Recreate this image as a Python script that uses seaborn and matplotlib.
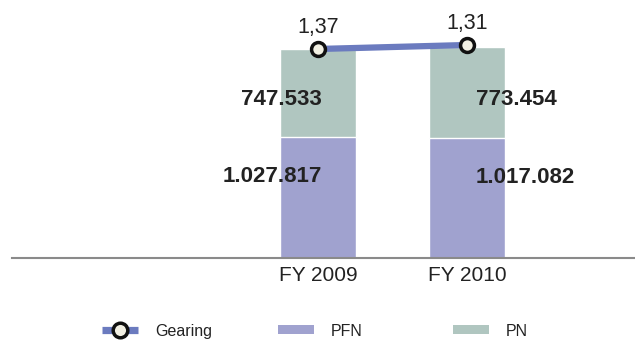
import matplotlib
matplotlib.use("Agg")
import matplotlib.pyplot as plt
import seaborn as sns
import pandas as pd
import numpy as np
from matplotlib.lines import Line2D
from matplotlib.patches import Patch

# Data
years = ["FY 2009", "FY 2010"]
pfn = [1027817, 1017082]
pn = [747533, 773454]
gearing = [1.37, 1.31]
pfn_labels = ["1.027.817", "1.017.082"]
pn_labels = ["747.533", "773.454"]
gearing_labels = ["1,37", "1,31"]
legend_labels = ["Gearing", "PFN", "PN"]

PFN_COLOR = "#a0a2cf"
PN_COLOR = "#b0c6c0"
LINE_COLOR = "#6b7bbf"
TEXT_COLOR = "#222222"

sns.set_theme(style="white")
plt.rcParams["font.family"] = ["Liberation Sans", "DejaVu Sans"]

df = pd.DataFrame({"year": years, "PFN": pfn, "PN": pn})
df["total"] = df["PFN"] + df["PN"]

W, H = 635, 340
fig = plt.figure(figsize=(W / 100, H / 100), dpi=100)
ax = fig.add_axes([12 / W, (H - 257.5) / H, 623 / W, 257.5 / H])

# Stacked bars: full total in PN colour, PFN drawn over the lower part
sns.barplot(data=df, x="year", y="total", color=PN_COLOR, saturation=1,
            width=0.51, ax=ax)
sns.barplot(data=df, x="year", y="PFN", color=PFN_COLOR, saturation=1,
            width=0.51, ax=ax)

ax.set_xlim(-2.054, 2.128)
ax.set_ylim(0, 2.195e6)
ax.set_xlabel("")
ax.set_ylabel("")
ax.set_yticks([])
for side in ["top", "left", "right"]:
    ax.spines[side].set_visible(False)
ax.spines["bottom"].set_color("#8a8a8a")
ax.spines["bottom"].set_linewidth(1.5)
ax.tick_params(axis="x", length=0, pad=6, labelsize=15, labelcolor=TEXT_COLOR)

# Value labels on the bar segments
for i in range(len(years)):
    if i == 0:
        dx, ha = 3, "right"
    else:
        dx, ha = 6.5, "left"
    ax.annotate(pfn_labels[i], (i, pfn[i] * 0.69), xytext=(dx, 0),
                textcoords="offset points", ha=ha, va="center_baseline",
                fontsize=16, fontweight="bold", color=TEXT_COLOR)
    ax.annotate(pn_labels[i], (i, pfn[i] + pn[i] * 0.45), xytext=(dx, 0),
                textcoords="offset points", ha=ha, va="center_baseline",
                fontsize=16, fontweight="bold", color=TEXT_COLOR)

# Gearing ratio on a secondary scale
ax2 = ax.twinx()
line_style = dict(color=LINE_COLOR, linewidth=4.5, marker="o", markersize=10,
                  markerfacecolor="#f2f0e3", markeredgecolor="#111111",
                  markeredgewidth=2.5, solid_capstyle="butt")
sns.lineplot(x=np.arange(len(years)), y=gearing, ax=ax2, **line_style)
ax2.set_xlim(-2.054, 2.128)
ax2.set_ylim(4.4975, 0.635)
ax2.axis("off")
for i, g in enumerate(gearing):
    ax2.annotate(gearing_labels[i], (i, g), xytext=(0, 17.5),
                 textcoords="offset points", ha="center", va="center_baseline",
                 fontsize=15.5, color=TEXT_COLOR)

# Legend across the bottom: handle keys, then their captions
fs = 11.5
fs_px = fs * 100 / 72
legend_handle_style = dict(line_style, linewidth=5.2, markersize=10.5)
handles = [
    Line2D([], [], **legend_handle_style),
    Patch(facecolor=PFN_COLOR, edgecolor="none"),
    Patch(facecolor=PN_COLOR, edgecolor="none"),
]
handle_x = [102, 278, 453]
for handle, label, x0 in zip(handles, legend_labels, handle_x):
    fig.legend([handle], [""], loc="center left",
               bbox_to_anchor=(x0 / W, (H - 331) / H),
               frameon=False, fontsize=fs, borderpad=0, borderaxespad=0,
               handlelength=36 / fs_px, handleheight=7.7 / fs_px,
               handletextpad=0)
    fig.text((x0 + 53) / W, 3.8 / H, label, ha="left", va="baseline",
             fontsize=fs, color=TEXT_COLOR)

fig.savefig("out.png", dpi=100)
